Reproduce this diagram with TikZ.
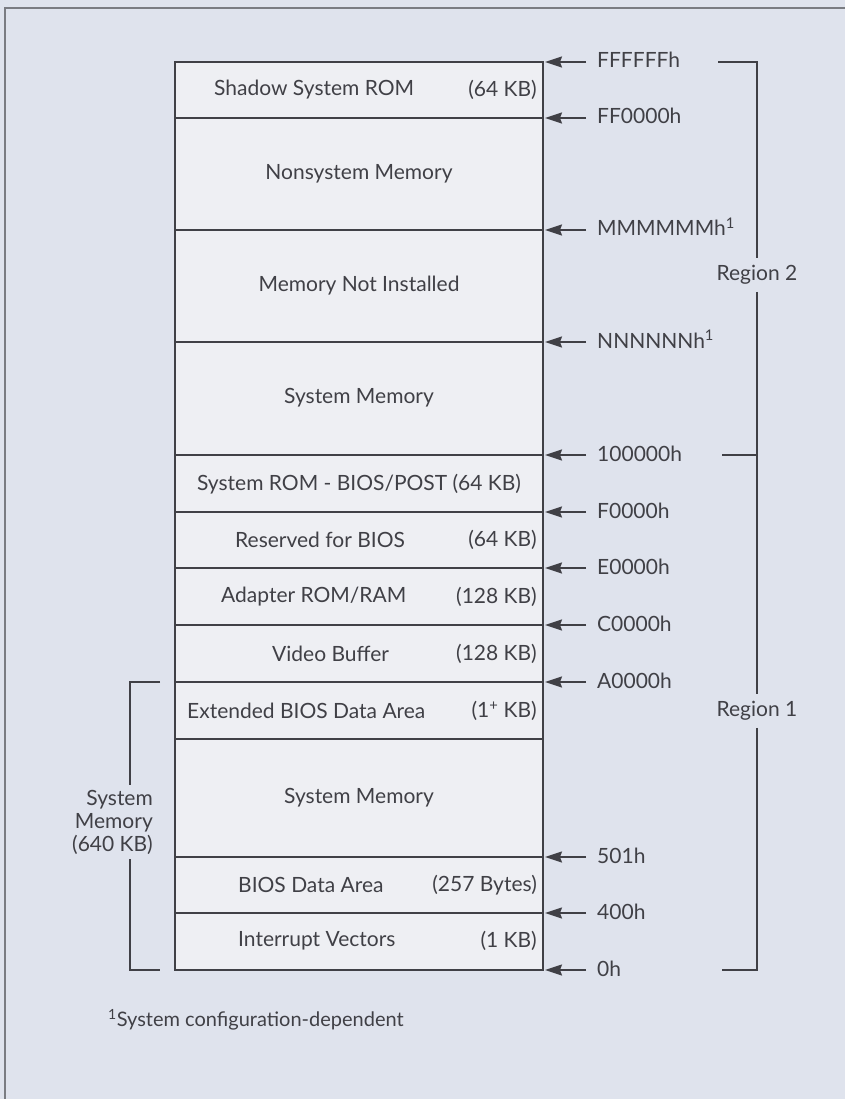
\documentclass[tikz,border=0pt]{standalone}
\usepackage{fontspec}
\setmainfont{Lato}
\usetikzlibrary{arrows.meta}
\definecolor{pagebg}{HTML}{DFE3ED}
\definecolor{boxfill}{HTML}{EEEFF3}
\definecolor{ink}{HTML}{404046}
\definecolor{framegray}{HTML}{7A7C82}
\begin{document}
\begin{tikzpicture}[x=1pt,y=-1pt,font=\fontsize{21}{23}\selectfont,
 every node/.style={text=ink},
 rowrule/.style={ink,line width=1.6pt},
 brace/.style={ink,line width=1.6pt},
 ptr/.style={ink,line width=1.6pt,shorten <=11pt,-{Stealth[length=17pt,width=11pt,inset=2pt]}},
 addr/.style={anchor=west,inner sep=0pt,text height=16pt,text depth=4pt},
 part/.style={anchor=west,inner sep=0pt},
 size/.style={anchor=east,inner sep=0pt}]
 \useasboundingbox (0,0) rectangle (845,1099);
 \fill[pagebg] (0,0) rectangle (845,1099);
 \draw[framegray,line width=1.2pt] (5,1099)--(5,8)--(845,8);
 \filldraw[fill=boxfill,draw=ink,line width=1.6pt] (175,62) rectangle (543,970);
 \foreach \y in {118,230,342,455,512,568,625,682,739,857,913}
  \draw[rowrule] (175,\y)--(543,\y);
 \foreach \y/\n/\t in {62/ffffff/FFFFFFh,118/ff0000/FF0000h,230/mmm/MMMMMMh\textsuperscript{1},
  342/nnn/NNNNNNh\textsuperscript{1},455/meg/100000h,512/f0000/F0000h,568/e0000/E0000h,
  625/c0000/C0000h,682/a0000/A0000h,857/h501/501h,913/h400/400h,970/h0/0h}{
  \coordinate (edge-\n) at (545,\y);
  \node[addr] (addr-\n) at (597,\y) {\t};
  \draw[ptr] (addr-\n.west)--(edge-\n);
 }
 \node[part] (shadow) at (214,90) {Shadow System ROM};
 \node[size] (shadow-kb) at (537,90) {(64 KB)};
 \node (nonsys) at (359,174) {Nonsystem Memory};
 \node (notinst) at (359,286) {Memory Not Installed};
 \node (sysmem-hi) at (359,398) {System Memory};
 \node (sysrom) at (359,484) {System ROM - BIOS/POST (64 KB)};
 \node[part] (resv) at (235,540) {Reserved for BIOS};
 \node[size] (resv-kb) at (537,540) {(64 KB)};
 \node[part] (adapter) at (221,597) {Adapter ROM/RAM};
 \node[size] (adapter-kb) at (537,597) {(128 KB)};
 \node[part] (video) at (272,654) {Video Buffer};
 \node[size] (video-kb) at (537,654) {(128 KB)};
 \node[part] (ebda) at (187,711) {Extended BIOS Data Area};
 \node[size] (ebda-kb) at (537,711) {(1\textsuperscript{+} KB)};
 \node (sysmem-lo) at (359,798) {System Memory};
 \node[part] (bda) at (238,885) {BIOS Data Area};
 \node[size] (bda-kb) at (537,885) {(257 Bytes)};
 \node[part] (ivt) at (238,941) {Interrupt Vectors};
 \node[size] (ivt-kb) at (537,941) {(1 KB)};
 \node[inner sep=7pt] (reg2) at (757,275) {Region 2};
 \node[inner sep=7pt] (reg1) at (757,711) {Region 1};
 \draw[brace] (718,62)-|(reg2.north);
 \draw[brace] (reg2.south)|-(722,455);
 \draw[brace] (reg2.south|-edge-meg)--(reg1.north);
 \draw[brace] (reg1.south)|-(722,970);
 \node[align=right,anchor=east,inner sep=5pt] (conv) at (158,822) {System\\Memory\\(640 KB)};
 \coordinate (lbx) at (130,0);
 \coordinate (lbtop) at (160,682);
 \coordinate (lbbot) at (160,970);
 \draw[brace] (lbtop)-|(conv.north-|lbx);
 \draw[brace] (conv.south-|lbx)|-(lbbot);
 \node[anchor=west,inner sep=0pt,font=\fontsize{20}{22}\selectfont] (note) at (108,1020) {\textsuperscript{1}System configuration-dependent};
\end{tikzpicture}
\end{document}
